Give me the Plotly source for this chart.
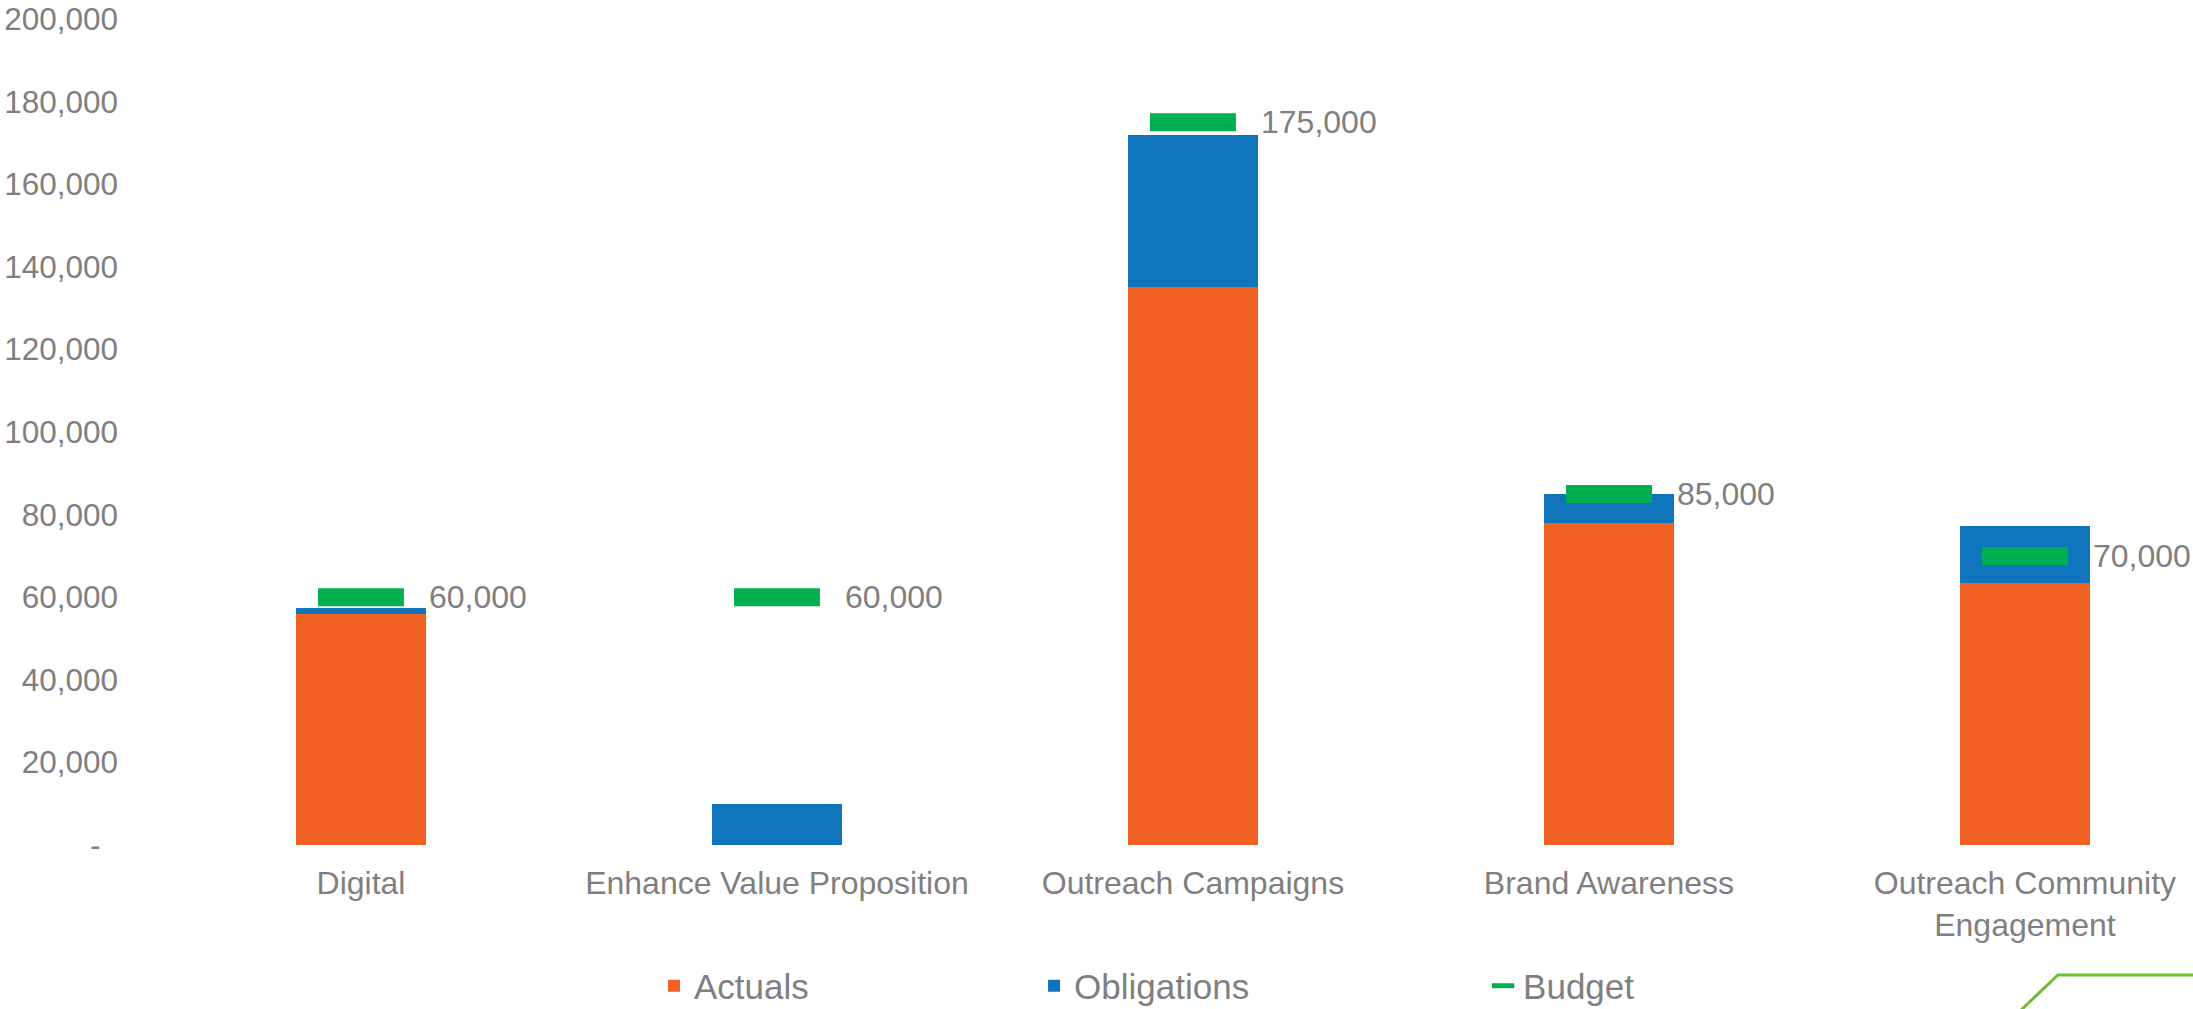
import plotly.graph_objects as go

categories = ["Digital", "Enhance Value Proposition", "Outreach Campaigns",
              "Brand Awareness", "Outreach Community<br>Engagement"]
actuals = [56000, 0, 135000, 78000, 63500]
obligations = [1500, 10000, 37000, 7000, 13800]
budget = [60000, 60000, 175000, 85000, 70000]
y_tick_vals = [0, 20000, 40000, 60000, 80000, 100000, 120000, 140000, 160000, 180000, 200000]
y_tick_text = ["-\u00a0\u00a0", "20,000", "40,000", "60,000", "80,000", "100,000",
               "120,000", "140,000", "160,000", "180,000", "200,000"]

ORANGE = "#F16124"
BLUE = "#0E75BC"
GREEN = "#00B050"
GRAY = "#7F7F7F"
FONT = "Liberation Sans, Arial, sans-serif"

fig = go.Figure()
fig.add_trace(go.Bar(x=categories, y=actuals, name="Actuals", marker_color=ORANGE,
                     marker_line_width=0, legend="legend", showlegend=True))
fig.add_trace(go.Bar(x=categories, y=obligations, name="Obligations", marker_color=BLUE,
                     marker_line_width=0, legend="legend2", showlegend=True))
fig.add_trace(go.Scatter(x=categories, y=budget, name="Budget", mode="markers",
                         marker=dict(symbol="line-ew", size=61.4, color=GREEN,
                                     line=dict(width=18, color=GREEN)),
                         legend="legend3", showlegend=True))

for c, b in zip(categories, budget):
    fig.add_annotation(x=c, y=b, text=f"{b:,}", showarrow=False, xanchor="left",
                       yanchor="middle", xshift=66, font=dict(size=32, color=GRAY, family=FONT))

# decorative slide line at the bottom right
fig.add_shape(type="path", xref="paper", yref="paper",
              path="M 0.9147 -0.2022 L 0.9338 -0.1574 L 1.0 -0.1574",
              line=dict(color="#6CBF2F", width=3))

legend_common = dict(orientation="h", yanchor="middle", y=-0.1707, xanchor="left",
                     font=dict(size=35, color=GRAY, family=FONT), bgcolor="rgba(0,0,0,0)")
fig.update_layout(
    width=2193, height=1009, autosize=False,
    margin=dict(l=153, r=0, t=19, b=164, autoexpand=False),
    paper_bgcolor="white", plot_bgcolor="white",
    barmode="stack", bargap=0.686,
    showlegend=True,
    font=dict(family=FONT, size=32, color=GRAY),
    legend=dict(x=0.2456, **legend_common),
    legend2=dict(x=0.4319, **legend_common),
    legend3=dict(x=0.652, **legend_common),
    xaxis=dict(range=[-0.5, 4.404], showgrid=False, showline=False, zeroline=False,
               ticks="", tickfont=dict(size=32, color=GRAY), ticklabelstandoff=16),
    yaxis=dict(range=[0, 200000], tickvals=y_tick_vals, ticktext=y_tick_text,
               showgrid=False, showline=False, zeroline=False, ticks="",
               tickfont=dict(size=31.5, color=GRAY), ticklabelstandoff=34),
)

fig.write_html("out.html")
